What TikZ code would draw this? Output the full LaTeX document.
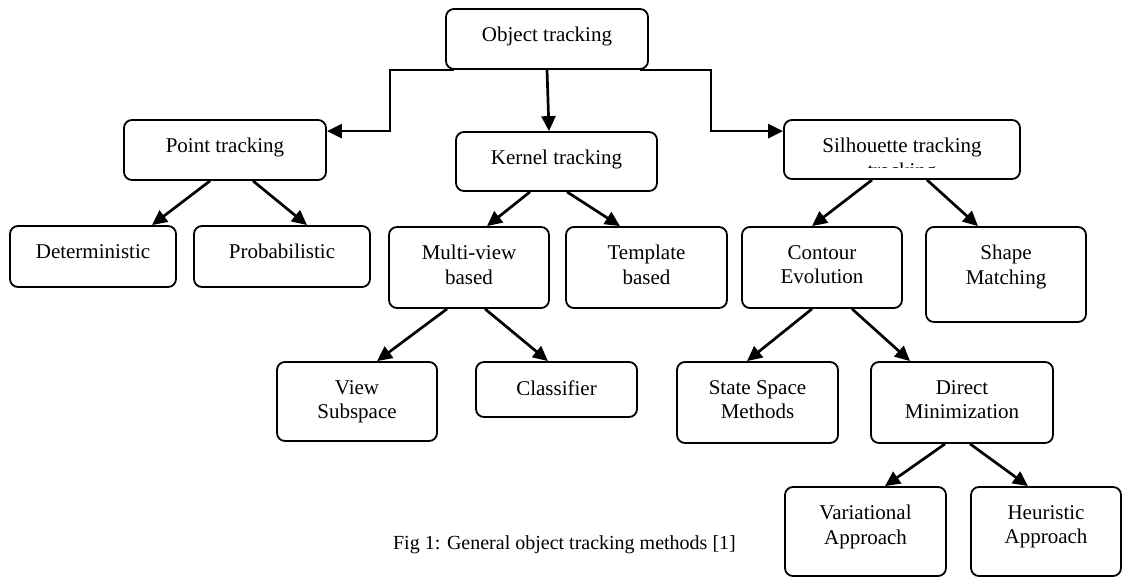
\documentclass[tikz,border=0pt]{standalone}
\usepackage{fontspec}
\setmainfont{Liberation Serif}
\usetikzlibrary{arrows.meta}
\newcommand{\boxfont}{\fontsize{21}{24.5}\selectfont}
\tikzset{
  box/.style 2 args={draw, line width=1.8pt, rounded corners=8pt,
    minimum width=#1, minimum height=#2, inner sep=0pt},
  txt/.style={label={[anchor=north, yshift=-19pt, align=center,
    font=\boxfont, inner sep=0pt]north:{#1}}},
  link/.style={line width=2.7pt, -{Triangle[length=15pt,width=14pt]}},
}
\begin{document}
\begin{tikzpicture}[x=1pt,y=-1pt]
  \useasboundingbox (0,0) rectangle (1123,578);
  % boxes
  \node[box={202pt}{60pt}, txt={Object tracking}] (obj) at (547,39) {};
  \node[box={202pt}{60pt}, txt={Point tracking}] (point) at (225,150) {};
  \node[box={201pt}{59pt}, txt={Kernel tracking}] (kernel) at (556.5,161.5) {};
  \node[box={236pt}{59pt}, txt={Silhouette tracking}] (sil) at (902,149.5) {};
  \node[box={166pt}{61pt}, txt={Deterministic}] (det) at (93,256.5) {};
  \node[box={176pt}{61pt}, txt={Probabilistic}] (prob) at (282,256.5) {};
  \node[box={160pt}{81pt}, txt={Multi-view\\based}] (multi) at (469,267.5) {};
  \node[box={161pt}{81pt}, txt={Template\\based}] (templ) at (646.5,267.5) {};
  \node[box={160pt}{81pt}, txt={Contour\\Evolution}] (contour) at (822,267.5) {};
  \node[box={160pt}{95pt}, txt={Shape\\Matching}] (shape) at (1006,274.5) {};
  \node[box={160pt}{79pt}, txt={View\\Subspace}] (view) at (357,401.5) {};
  \node[box={161pt}{55pt}, txt={Classifier}] (classif) at (556.5,389.5) {};
  \node[box={161pt}{81pt}, txt={State Space\\Methods}] (state) at (757.5,402.5) {};
  \node[box={182pt}{81pt}, txt={Direct\\Minimization}] (direct) at (962,402.5) {};
  \node[box={161pt}{89pt}, txt={Variational\\Approach}] (var) at (865.5,531.5) {};
  \node[box={150pt}{89pt}, txt={Heuristic\\Approach}] (heur) at (1046,531.5) {};
  % cut second line of the silhouette box
  \begin{scope}
    \clip (sil.north west) rectangle ([yshift=-48pt]sil.north east);
    \node[anchor=north, font=\boxfont, inner sep=0pt] (siltail) at ([yshift=-43.5pt]sil.north) {tracking};
  \end{scope}
  % caption
  \node[font=\fontsize{20}{24}\selectfont, anchor=east, inner sep=0pt] (cap) at (736,545) {Fig 1: General object tracking methods [1]};
  % top level
  \draw[link] ([xshift=9pt]obj.south west) -- ++(-64,0) |- ([yshift=-12pt]point.north east);
  \draw[link] (obj.south) -- ([xshift=-7.5pt]kernel.north);
  \draw[link] ([xshift=-9pt]obj.south east) -- ++(71,0) |- ([yshift=-12pt]sil.north west);
  % point tracking
  \draw[link] ([xshift=-15pt]point.south) -- ([xshift=59pt]det.north);
  \draw[link] ([xshift=28pt]point.south) -- ([xshift=25pt]prob.north);
  % kernel tracking
  \draw[link] ([xshift=-26.5pt]kernel.south) -- ([xshift=18pt]multi.north);
  \draw[link] ([xshift=10.5pt]kernel.south) -- ([xshift=-26.5pt]templ.north);
  \draw[link] ([xshift=-22pt]multi.south) -- ([xshift=20pt]view.north);
  \draw[link] ([xshift=16pt]multi.south) -- ([xshift=-8.5pt]classif.north);
  % silhouette tracking
  \draw[link] ([xshift=-30pt]sil.south) -- ([xshift=-10pt]contour.north);
  \draw[link] ([xshift=25pt]sil.south) -- ([xshift=-28pt]shape.north);
  \draw[link] ([xshift=-10pt]contour.south) -- ([xshift=-10.5pt]state.north);
  \draw[link] ([xshift=30pt]contour.south) -- ([xshift=-52pt]direct.north);
  \draw[link] ([xshift=-17pt]direct.south) -- ([xshift=19.5pt]var.north);
  \draw[link] ([xshift=8pt]direct.south) -- ([xshift=-18pt]heur.north);
\end{tikzpicture}
\end{document}
